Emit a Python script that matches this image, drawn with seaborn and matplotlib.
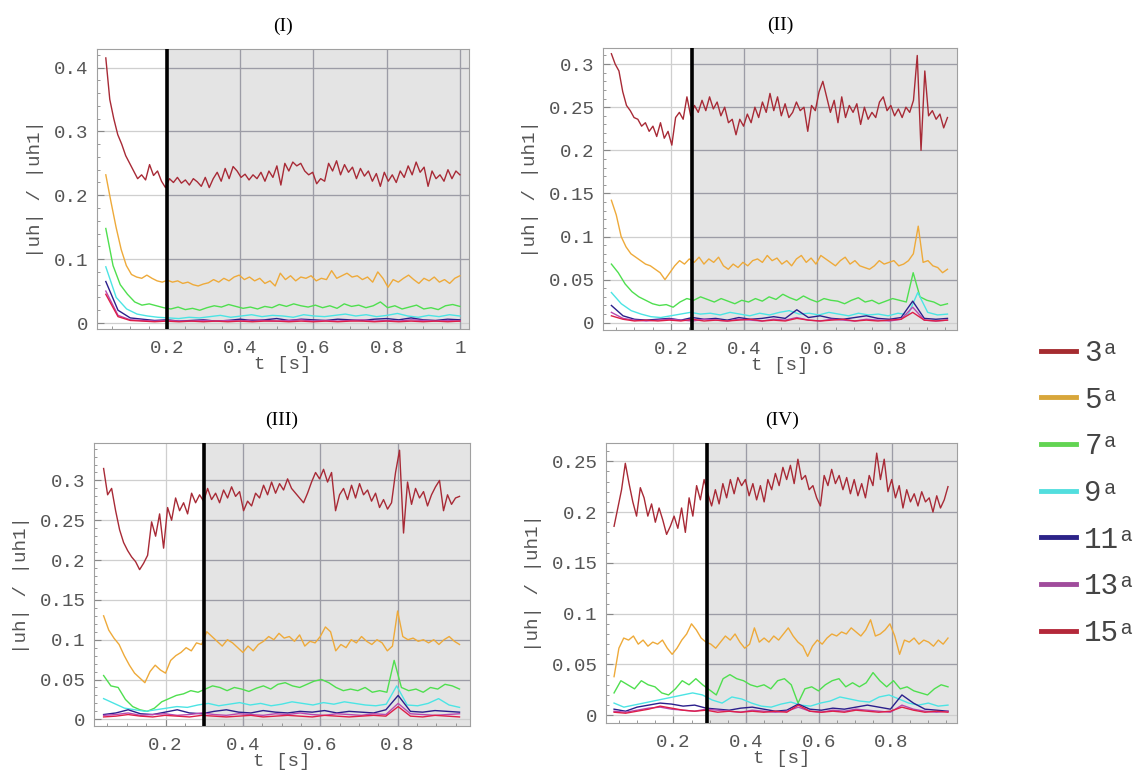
import numpy as np
import pandas as pd
import seaborn as sns
import matplotlib as mpl
mpl.use('Agg')
import matplotlib.pyplot as plt
from matplotlib.lines import Line2D
from matplotlib.font_manager import FontProperties
from matplotlib.ticker import FuncFormatter, AutoMinorLocator

# harmonics shown in every panel
harmonics = ['3', '5', '7', '9', '11', '13', '15']

# ---- panel (I): t from 0.033 to 1.0 s
p1_h3 = [0.415, 0.35, 0.32, 0.295, 0.28, 0.262, 0.25, 0.238, 0.226, 0.232,
         0.224, 0.248, 0.231, 0.238, 0.222, 0.212, 0.226, 0.22, 0.228, 0.219,
         0.224, 0.216, 0.226, 0.221, 0.214, 0.228, 0.212, 0.226, 0.236, 0.222,
         0.242, 0.226, 0.245, 0.238, 0.228, 0.233, 0.224, 0.232, 0.226, 0.236,
         0.222, 0.238, 0.228, 0.246, 0.216, 0.25, 0.238, 0.252, 0.246, 0.25,
         0.238, 0.232, 0.236, 0.218, 0.226, 0.222, 0.25, 0.238, 0.254, 0.232,
         0.248, 0.236, 0.244, 0.226, 0.242, 0.23, 0.238, 0.222, 0.234, 0.214,
         0.236, 0.222, 0.232, 0.22, 0.238, 0.228, 0.246, 0.232, 0.252, 0.236,
         0.244, 0.214, 0.238, 0.226, 0.232, 0.222, 0.24, 0.226, 0.238, 0.232]
p1_h5 = [0.232, 0.19, 0.15, 0.115, 0.09, 0.076, 0.072, 0.07, 0.075, 0.07,
         0.066, 0.064, 0.067, 0.064, 0.066, 0.062, 0.064, 0.06, 0.058, 0.061,
         0.063, 0.068, 0.064, 0.07, 0.066, 0.072, 0.075, 0.068, 0.072, 0.066,
         0.07, 0.062, 0.066, 0.058, 0.078, 0.068, 0.074, 0.066, 0.072, 0.07,
         0.074, 0.066, 0.07, 0.068, 0.082, 0.07, 0.074, 0.078, 0.072, 0.074,
         0.068, 0.072, 0.064, 0.08, 0.07, 0.056, 0.068, 0.064, 0.07, 0.075,
         0.068, 0.062, 0.07, 0.066, 0.072, 0.064, 0.068, 0.062, 0.07, 0.074]
p1_h7 = [0.148, 0.09, 0.06, 0.045, 0.033, 0.028, 0.03, 0.027, 0.024, 0.022,
         0.025, 0.021, 0.023, 0.02, 0.024, 0.027, 0.025, 0.029, 0.026, 0.023,
         0.025, 0.022, 0.026, 0.024, 0.029, 0.026, 0.03, 0.027, 0.025, 0.028,
         0.024, 0.027, 0.023, 0.03, 0.026, 0.028, 0.024, 0.027, 0.033, 0.024,
         0.027, 0.022, 0.025, 0.028, 0.022, 0.024, 0.021, 0.027, 0.029, 0.026]
p1_h9 = [0.088, 0.04, 0.022, 0.014, 0.011, 0.009, 0.008, 0.007, 0.009, 0.008,
         0.01, 0.012, 0.009, 0.011, 0.013, 0.01, 0.012, 0.011, 0.009, 0.013,
         0.011, 0.01, 0.012, 0.014, 0.011, 0.013, 0.01, 0.012, 0.015, 0.011,
         0.009, 0.012, 0.01, 0.013, 0.011]
p1_h11 = [0.065, 0.02, 0.008, 0.006, 0.004, 0.005, 0.003, 0.004, 0.005, 0.003,
          0.004, 0.006, 0.004, 0.005, 0.007, 0.004, 0.006, 0.005, 0.004, 0.006,
          0.005, 0.004, 0.006, 0.007, 0.005, 0.008, 0.005, 0.004, 0.006, 0.005]
p1_h13 = [0.05, 0.012, 0.005, 0.004, 0.003, 0.004, 0.003, 0.003, 0.004, 0.003,
          0.004, 0.003, 0.005, 0.004, 0.003, 0.004, 0.005, 0.003, 0.004, 0.003,
          0.004, 0.005, 0.003, 0.004, 0.003, 0.005, 0.004, 0.003, 0.004, 0.003]
p1_h15 = [0.045, 0.01, 0.004, 0.003, 0.002, 0.003, 0.002, 0.003, 0.002, 0.003,
          0.002, 0.003, 0.002, 0.003, 0.003, 0.002, 0.003, 0.002, 0.003, 0.002,
          0.003, 0.003, 0.002, 0.003, 0.002, 0.003, 0.002, 0.003, 0.002, 0.003]

# ---- panel (II): t from 0.037 to 0.956 s
p2_h3 = [0.312, 0.30, 0.292, 0.268, 0.252, 0.246, 0.238, 0.236, 0.228, 0.232,
         0.222, 0.228, 0.216, 0.232, 0.214, 0.222, 0.206, 0.238, 0.244, 0.236,
         0.262, 0.24, 0.252, 0.244, 0.258, 0.246, 0.262, 0.248, 0.256, 0.24,
         0.25, 0.232, 0.236, 0.218, 0.236, 0.228, 0.242, 0.232, 0.25, 0.238,
         0.256, 0.244, 0.266, 0.246, 0.262, 0.24, 0.254, 0.238, 0.244, 0.256,
         0.246, 0.25, 0.222, 0.252, 0.246, 0.268, 0.28, 0.262, 0.244, 0.258,
         0.232, 0.262, 0.238, 0.252, 0.244, 0.254, 0.23, 0.25, 0.236, 0.244,
         0.238, 0.256, 0.262, 0.246, 0.252, 0.24, 0.248, 0.238, 0.25, 0.244,
         0.258, 0.31, 0.2, 0.292, 0.24, 0.246, 0.236, 0.242, 0.226, 0.238]
p2_h5 = [0.142, 0.125, 0.1, 0.088, 0.08, 0.076, 0.072, 0.068, 0.066, 0.062,
         0.058, 0.05, 0.058, 0.066, 0.072, 0.068, 0.074, 0.07, 0.076, 0.068,
         0.074, 0.07, 0.076, 0.066, 0.062, 0.068, 0.064, 0.07, 0.066, 0.072,
         0.074, 0.07, 0.078, 0.072, 0.075, 0.068, 0.072, 0.066, 0.074, 0.078,
         0.07, 0.075, 0.068, 0.078, 0.074, 0.07, 0.066, 0.072, 0.076, 0.068,
         0.072, 0.066, 0.064, 0.062, 0.066, 0.072, 0.068, 0.07, 0.072, 0.066,
         0.068, 0.072, 0.08, 0.112, 0.07, 0.072, 0.066, 0.064, 0.058, 0.062]
p2_h7 = [0.068, 0.058, 0.045, 0.036, 0.03, 0.026, 0.022, 0.02, 0.021, 0.018,
         0.024, 0.028, 0.026, 0.03, 0.027, 0.024, 0.028, 0.025, 0.022, 0.026,
         0.024, 0.028, 0.025, 0.03, 0.027, 0.033, 0.029, 0.026, 0.031, 0.027,
         0.024, 0.028, 0.026, 0.025, 0.022, 0.026, 0.029, 0.024, 0.026, 0.022,
         0.025, 0.028, 0.026, 0.024, 0.058, 0.03, 0.026, 0.024, 0.02, 0.022]
p2_h9 = [0.035, 0.022, 0.014, 0.01, 0.007, 0.006, 0.008, 0.01, 0.012, 0.01,
         0.011, 0.009, 0.012, 0.01, 0.008, 0.011, 0.009, 0.012, 0.014, 0.01,
         0.011, 0.009, 0.012, 0.01, 0.008, 0.011, 0.009, 0.01, 0.008, 0.011,
         0.009, 0.035, 0.012, 0.009, 0.01]
p2_h11 = [0.02, 0.008, 0.004, 0.003, 0.004, 0.005, 0.003, 0.006, 0.004, 0.005,
          0.003, 0.006, 0.004, 0.005, 0.007, 0.005, 0.015, 0.006, 0.008, 0.005,
          0.004, 0.006, 0.008, 0.005, 0.004, 0.006, 0.025, 0.005, 0.004, 0.005]
p2_h13 = [0.012, 0.005, 0.003, 0.002, 0.003, 0.004, 0.003, 0.002, 0.004, 0.003,
          0.002, 0.004, 0.003, 0.002, 0.004, 0.003, 0.006, 0.003, 0.002, 0.004,
          0.003, 0.002, 0.004, 0.003, 0.002, 0.004, 0.018, 0.003, 0.002, 0.003]
p2_h15 = [0.008, 0.004, 0.002, 0.003, 0.002, 0.003, 0.002, 0.004, 0.002, 0.003,
          0.002, 0.003, 0.004, 0.002, 0.003, 0.002, 0.005, 0.003, 0.002, 0.003,
          0.004, 0.002, 0.003, 0.002, 0.003, 0.004, 0.012, 0.003, 0.002, 0.003]

# ---- panel (III): t from 0.04 to 0.96 s
p3_h3 = [0.315, 0.282, 0.29, 0.262, 0.238, 0.222, 0.212, 0.204, 0.198, 0.188,
         0.196, 0.206, 0.248, 0.23, 0.258, 0.215, 0.266, 0.25, 0.278, 0.262,
         0.272, 0.258, 0.284, 0.272, 0.282, 0.274, 0.29, 0.276, 0.284, 0.272,
         0.288, 0.278, 0.292, 0.28, 0.286, 0.262, 0.274, 0.268, 0.284, 0.278,
         0.294, 0.282, 0.298, 0.284, 0.296, 0.288, 0.302, 0.29, 0.284, 0.278,
         0.272, 0.284, 0.298, 0.31, 0.302, 0.314, 0.298, 0.31, 0.262, 0.282,
         0.29, 0.276, 0.294, 0.278, 0.296, 0.282, 0.288, 0.274, 0.284, 0.266,
         0.276, 0.264, 0.272, 0.31, 0.338, 0.234, 0.298, 0.27, 0.29, 0.278,
         0.286, 0.268, 0.282, 0.292, 0.3, 0.262, 0.282, 0.27, 0.278, 0.28]
p3_h5 = [0.13, 0.112, 0.102, 0.094, 0.08, 0.068, 0.058, 0.052, 0.046, 0.06,
         0.068, 0.062, 0.058, 0.074, 0.08, 0.084, 0.09, 0.086, 0.096, 0.094,
         0.11, 0.104, 0.098, 0.092, 0.1, 0.096, 0.09, 0.084, 0.092, 0.086,
         0.094, 0.098, 0.104, 0.1, 0.108, 0.102, 0.104, 0.098, 0.106, 0.092,
         0.098, 0.096, 0.104, 0.116, 0.11, 0.086, 0.094, 0.09, 0.1, 0.096,
         0.104, 0.098, 0.094, 0.1, 0.096, 0.086, 0.092, 0.136, 0.104, 0.1,
         0.102, 0.098, 0.1, 0.096, 0.1, 0.094, 0.1, 0.104, 0.098, 0.094]
p3_h7 = [0.055, 0.042, 0.04, 0.025, 0.016, 0.012, 0.01, 0.014, 0.022, 0.026,
         0.03, 0.032, 0.036, 0.034, 0.038, 0.042, 0.04, 0.036, 0.04, 0.038,
         0.035, 0.039, 0.042, 0.038, 0.044, 0.046, 0.042, 0.04, 0.044, 0.048,
         0.05, 0.046, 0.04, 0.036, 0.038, 0.036, 0.04, 0.034, 0.036, 0.034,
         0.074, 0.04, 0.036, 0.038, 0.034, 0.04, 0.038, 0.044, 0.042, 0.038]
p3_h9 = [0.026, 0.02, 0.014, 0.012, 0.01, 0.012, 0.014, 0.016, 0.015, 0.018,
         0.02, 0.017, 0.019, 0.021, 0.018, 0.02, 0.017, 0.019, 0.022, 0.02,
         0.018, 0.021, 0.019, 0.022, 0.02, 0.018, 0.017, 0.019, 0.042, 0.018,
         0.017, 0.02, 0.026, 0.018, 0.015]
p3_h11 = [0.006, 0.008, 0.012, 0.007, 0.006, 0.009, 0.012, 0.008, 0.007, 0.01,
          0.012, 0.009, 0.008, 0.011, 0.009, 0.008, 0.01, 0.009, 0.011, 0.008,
          0.01, 0.009, 0.008, 0.012, 0.03, 0.01, 0.009, 0.011, 0.01, 0.009]
p3_h13 = [0.005, 0.006, 0.008, 0.005, 0.006, 0.007, 0.005, 0.006, 0.008, 0.006,
          0.005, 0.007, 0.006, 0.005, 0.007, 0.006, 0.008, 0.006, 0.005, 0.007,
          0.006, 0.005, 0.007, 0.006, 0.02, 0.007, 0.006, 0.005, 0.006, 0.007]
p3_h15 = [0.003, 0.004, 0.006, 0.004, 0.003, 0.005, 0.004, 0.003, 0.005, 0.004,
          0.003, 0.004, 0.005, 0.003, 0.004, 0.005, 0.004, 0.003, 0.005, 0.004,
          0.003, 0.004, 0.005, 0.004, 0.016, 0.004, 0.003, 0.005, 0.004, 0.003]

# ---- panel (IV): t from 0.037 to 0.955 s
p4_h3 = [0.186, 0.204, 0.222, 0.248, 0.228, 0.21, 0.196, 0.224, 0.214, 0.196,
         0.208, 0.19, 0.204, 0.192, 0.178, 0.186, 0.196, 0.184, 0.204, 0.18,
         0.214, 0.196, 0.226, 0.212, 0.232, 0.218, 0.206, 0.222, 0.208, 0.228,
         0.214, 0.232, 0.218, 0.234, 0.226, 0.232, 0.216, 0.228, 0.212, 0.226,
         0.21, 0.232, 0.222, 0.238, 0.226, 0.244, 0.232, 0.246, 0.228, 0.252,
         0.232, 0.236, 0.222, 0.226, 0.214, 0.206, 0.236, 0.226, 0.242, 0.228,
         0.236, 0.222, 0.234, 0.218, 0.232, 0.216, 0.228, 0.214, 0.236, 0.226,
         0.258, 0.232, 0.252, 0.22, 0.232, 0.214, 0.226, 0.204, 0.222, 0.21,
         0.218, 0.206, 0.22, 0.21, 0.214, 0.2, 0.216, 0.204, 0.212, 0.225]
p4_h5 = [0.038, 0.066, 0.076, 0.074, 0.078, 0.07, 0.074, 0.068, 0.072, 0.07,
         0.074, 0.066, 0.06, 0.066, 0.074, 0.08, 0.09, 0.084, 0.076, 0.072,
         0.07, 0.066, 0.072, 0.078, 0.074, 0.08, 0.072, 0.066, 0.07, 0.086,
         0.072, 0.076, 0.072, 0.078, 0.074, 0.08, 0.086, 0.078, 0.072, 0.068,
         0.058, 0.068, 0.074, 0.07, 0.076, 0.08, 0.078, 0.082, 0.08, 0.086,
         0.082, 0.078, 0.084, 0.094, 0.078, 0.08, 0.084, 0.09, 0.078, 0.06,
         0.074, 0.072, 0.076, 0.07, 0.074, 0.072, 0.068, 0.074, 0.07, 0.076]
p4_h7 = [0.022, 0.034, 0.03, 0.026, 0.034, 0.03, 0.028, 0.022, 0.02, 0.026,
         0.034, 0.03, 0.036, 0.03, 0.025, 0.02, 0.036, 0.04, 0.036, 0.034,
         0.03, 0.028, 0.03, 0.026, 0.034, 0.036, 0.03, 0.012, 0.026, 0.028,
         0.024, 0.03, 0.034, 0.036, 0.028, 0.032, 0.028, 0.032, 0.042, 0.034,
         0.028, 0.034, 0.026, 0.028, 0.024, 0.022, 0.02, 0.026, 0.03, 0.028]
p4_h9 = [0.012, 0.008, 0.01, 0.012, 0.014, 0.016, 0.018, 0.02, 0.022, 0.02,
         0.015, 0.012, 0.018, 0.016, 0.012, 0.009, 0.008, 0.011, 0.013, 0.01,
         0.009, 0.012, 0.014, 0.018, 0.016, 0.014, 0.013, 0.018, 0.02, 0.016,
         0.012, 0.01, 0.012, 0.009, 0.01]
p4_h11 = [0.006, 0.004, 0.008, 0.01, 0.012, 0.011, 0.009, 0.01, 0.007, 0.006,
          0.005, 0.007, 0.008, 0.006, 0.004, 0.005, 0.011, 0.006, 0.005, 0.007,
          0.006, 0.008, 0.01, 0.008, 0.006, 0.02, 0.012, 0.006, 0.005, 0.004]
p4_h13 = [0.004, 0.003, 0.005, 0.007, 0.008, 0.006, 0.005, 0.004, 0.006, 0.005,
          0.004, 0.003, 0.005, 0.004, 0.003, 0.004, 0.008, 0.004, 0.003, 0.005,
          0.004, 0.006, 0.005, 0.004, 0.003, 0.01, 0.006, 0.004, 0.003, 0.004]
p4_h15 = [0.003, 0.002, 0.004, 0.006, 0.009, 0.007, 0.005, 0.004, 0.005, 0.003,
          0.004, 0.003, 0.004, 0.003, 0.004, 0.003, 0.01, 0.004, 0.003, 0.004,
          0.003, 0.005, 0.004, 0.003, 0.004, 0.008, 0.005, 0.003, 0.004, 0.003]

titles = ['(I)', '(II)', '(III)', '(IV)']
t_ranges = [(0.033, 1.0), (0.037, 0.956), (0.04, 0.96), (0.037, 0.955)]
t_marks = [0.2, 0.257, 0.3, 0.292]
all_series = [
    [p1_h3, p1_h5, p1_h7, p1_h9, p1_h11, p1_h13, p1_h15],
    [p2_h3, p2_h5, p2_h7, p2_h9, p2_h11, p2_h13, p2_h15],
    [p3_h3, p3_h5, p3_h7, p3_h9, p3_h11, p3_h13, p3_h15],
    [p4_h3, p4_h5, p4_h7, p4_h9, p4_h11, p4_h13, p4_h15],
]
x_ticks = [[0.2, 0.4, 0.6, 0.8, 1.0], [0.2, 0.4, 0.6, 0.8],
           [0.2, 0.4, 0.6, 0.8], [0.2, 0.4, 0.6, 0.8]]
y_ticks = [[0, 0.1, 0.2, 0.3, 0.4],
           [0, 0.05, 0.1, 0.15, 0.2, 0.25, 0.3],
           [0, 0.05, 0.1, 0.15, 0.2, 0.25, 0.3],
           [0, 0.05, 0.1, 0.15, 0.2, 0.25]]

# layout / style
x_lims = [(0.009, 1.025), (0.014, 0.982), (0.015, 0.987), (0.015, 0.98)]
y_lims = [(-0.0094, 0.429), (-0.0085, 0.3186), (-0.0084, 0.347), (-0.0076, 0.268)]
ax_rects = [[0.0854, 0.5749, 0.3275, 0.3618], [0.5308, 0.5736, 0.3116, 0.3643],
            [0.0827, 0.0620, 0.3310, 0.3656], [0.5335, 0.0659, 0.3090, 0.3618]]
colors = ['#a82a36', '#eeaa3a', '#4fdf4f', '#4ce4e4', '#2b1f8c', '#b848b0', '#de1f48']
legend_colors = ['#a52c30', '#d8a63a', '#62d452', '#52dede', '#2c2388', '#a04c9c', '#b4283a']
palette = dict(zip(harmonics, colors))

mono = 'Liberation Mono'
label_gray = '#555555'

fig = plt.figure(figsize=(11.36, 7.74), dpi=100)
fmt = FuncFormatter(lambda v, p: '{:g}'.format(round(v, 4)))

for i in range(4):
    ax = fig.add_axes(ax_rects[i])
    t0, t1 = t_ranges[i]
    frames = []
    for h, vals in zip(harmonics, all_series[i]):
        frames.append(pd.DataFrame({'t': np.linspace(t0, t1, len(vals)),
                                    'v': vals, 'h': h}))
    df = pd.concat(frames, ignore_index=True)

    xmin, xmax = x_lims[i]
    ymin, ymax = y_lims[i]
    tm = t_marks[i]

    # grey shaded part after the marker line
    ax.axvspan(tm, xmax, color='#e4e4e4', zorder=0, lw=0)
    ax.set_axisbelow(True)
    ax.grid(True, color='#cfcfcf', lw=0.9)
    yt = [y for y in y_ticks[i] if y > 0]
    ax.hlines(yt, tm, xmax, colors='#9c9ca6', lw=0.9, zorder=0.6)
    ax.vlines([x for x in x_ticks[i] if x > tm], ymin, ymax,
              colors='#9c9ca6', lw=0.9, zorder=0.6)

    sns.lineplot(data=df, x='t', y='v', hue='h', hue_order=harmonics,
                 palette=palette, estimator=None, sort=False, legend=False,
                 lw=1.0, ax=ax)
    ax.axvline(tm, color='black', lw=2.6, zorder=5)

    ax.set_xlim(xmin, xmax)
    ax.set_ylim(ymin, ymax)
    ax.set_xticks(x_ticks[i])
    ax.set_yticks(y_ticks[i])
    ax.xaxis.set_major_formatter(fmt)
    ax.yaxis.set_major_formatter(fmt)
    ax.xaxis.set_minor_locator(AutoMinorLocator(4))
    ax.yaxis.set_minor_locator(AutoMinorLocator(5))
    ax.tick_params(which='both', direction='in', color='#888888')
    ax.tick_params(which='major', length=5, width=0.8,
                   labelsize=13.8, labelcolor=label_gray)
    ax.tick_params(axis='x', which='major', pad=8)
    ax.tick_params(axis='y', which='major', pad=6)
    ax.tick_params(which='minor', length=2.5, width=0.6)
    for lab in ax.get_xticklabels() + ax.get_yticklabels():
        lab.set_family(mono)
    for sp in ax.spines.values():
        sp.set_color('#a0a0a0')
        sp.set_linewidth(0.8)

    ax.set_xlabel('t [s]', family=mono, fontsize=13.8, color=label_gray, labelpad=-1)
    ax.set_ylabel('|uh| / |uh1|', family=mono, fontsize=13.8, color=label_gray, labelpad=7)
    ax.set_title(titles[i], family='Liberation Serif', fontsize=14, pad=13)

handles = [Line2D([0], [0], color=c, lw=3.5) for c in legend_colors]
labels = [h + '\u1d43' for h in harmonics]
leg_font = FontProperties(family=['Liberation Mono', 'DejaVu Serif', 'DejaVu Sans'], size=21)
fig.legend(handles, labels, loc='center left', bbox_to_anchor=(0.916, 0.363),
           frameon=False, prop=leg_font, labelcolor='#444444',
           handlelength=1.2, handletextpad=0.3, labelspacing=0.64,
           borderpad=0, borderaxespad=0)

fig.savefig('out.png', dpi=100)
